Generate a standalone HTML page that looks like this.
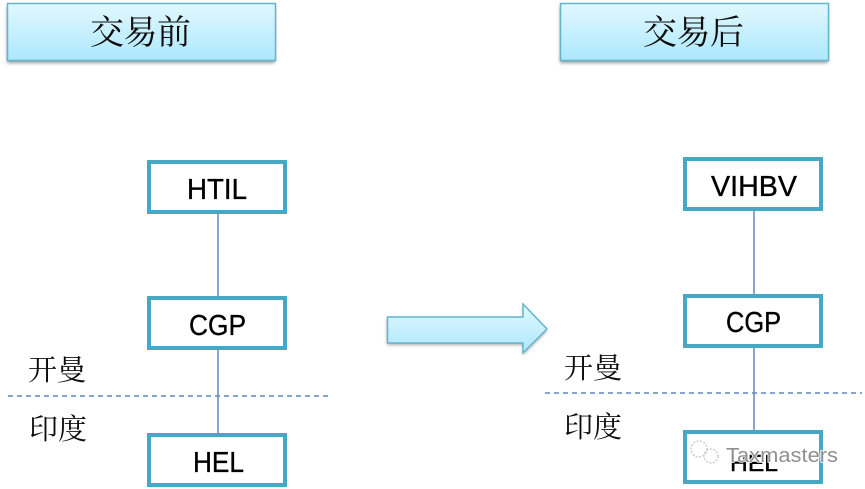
<!DOCTYPE html>
<html>
<head>
<meta charset="utf-8">
<style>
html,body{margin:0;padding:0;background:#fff;width:865px;height:489px;overflow:hidden}
svg{display:block}
.cn{font-family:"Noto Serif CJK SC","Liberation Serif",serif;fill:#111}
.en{font-family:"Liberation Sans",sans-serif;fill:#000;font-size:29px;stroke:#000;stroke-width:.35}
.box{fill:#fff;stroke:#44a9c6;stroke-width:4}
.ln{stroke:#5f88c0;stroke-width:1.5}
.dash{stroke:#5f88c0;stroke-width:1.4;stroke-dasharray:5 4}
</style>
</head>
<body>
<svg width="865" height="489" viewBox="0 0 865 489" xmlns="http://www.w3.org/2000/svg">
<defs>
<linearGradient id="g" x1="0" y1="0" x2="0" y2="1">
<stop offset="0" stop-color="#e2f8ff"/>
<stop offset="1" stop-color="#acE8fd"/>
</linearGradient>
<filter id="s" x="-5%" y="-20%" width="110%" height="150%">
<feGaussianBlur stdDeviation="1.5"/>
</filter>
<filter id="soft" filterUnits="userSpaceOnUse" x="0" y="0" width="865" height="489">
<feGaussianBlur stdDeviation="0.35"/>
</filter>
</defs>

<g filter="url(#soft)">
<!-- headers -->
<rect x="7" y="6" width="268" height="57" fill="#999" filter="url(#s)"/>
<rect x="7.5" y="3.5" width="268" height="57" fill="url(#g)" stroke="#62b5cc" stroke-width="1.5"/>
<text class="cn" x="90" y="44" font-size="34" textLength="101">交易前</text>

<rect x="560" y="6" width="268" height="57" fill="#999" filter="url(#s)"/>
<rect x="560.5" y="3.5" width="268" height="57" fill="url(#g)" stroke="#62b5cc" stroke-width="1.5"/>
<text class="cn" x="643" y="44" font-size="34" textLength="101">交易后</text>

<!-- arrow -->
<path d="M387 319H523V306L547 331L523 355V345H387Z" fill="#aaa" filter="url(#s)"/>
<path d="M387.5 317H523V304L547 329L523 353V343H387.5Z" fill="url(#g)" stroke="#62b5cc" stroke-width="1.5"/>

<!-- connectors -->
<line class="ln" x1="218" y1="213" x2="218" y2="297"/>
<line class="ln" x1="218" y1="349" x2="218" y2="434"/>
<line class="ln" x1="754" y1="210" x2="754" y2="295"/>
<line class="ln" x1="754" y1="347" x2="754" y2="431"/>

<!-- dashed -->
<line class="dash" x1="8" y1="396" x2="328" y2="396"/>
<line class="dash" x1="545" y1="393" x2="862" y2="393"/>

<!-- boxes left -->
<rect class="box" x="149" y="162" width="136" height="50"/>
<rect class="box" x="149" y="298" width="136" height="50"/>
<rect class="box" x="149" y="435" width="136" height="50"/>
<text class="en" x="187" y="199" textLength="60" lengthAdjust="spacingAndGlyphs">HTIL</text>
<text class="en" x="189" y="335" textLength="57" lengthAdjust="spacingAndGlyphs">CGP</text>
<text class="en" x="193" y="472" textLength="51" lengthAdjust="spacingAndGlyphs">HEL</text>

<!-- boxes right -->
<rect class="box" x="685" y="159" width="136" height="50"/>
<rect class="box" x="685" y="296" width="136" height="50"/>
<rect class="box" x="685" y="432" width="136" height="50"/>
<text class="en" x="711" y="196" textLength="86" lengthAdjust="spacingAndGlyphs">VIHBV</text>
<text class="en" x="726" y="332" textLength="55" lengthAdjust="spacingAndGlyphs">CGP</text>

<!-- region labels -->
<text class="cn" x="28" y="380" font-size="29">开曼</text>
<text class="cn" x="29" y="439" font-size="29">印度</text>
<text class="cn" x="564" y="378" font-size="29">开曼</text>
<text class="cn" x="564" y="437" font-size="29">印度</text>

<!-- watermark: white glow over box, HEL shows through -->
<g fill="none" stroke="#cfcfcf" stroke-width="1.6" stroke-dasharray="2 1.5">
<circle cx="699" cy="449" r="8"/>
<circle cx="711" cy="456" r="7"/>
</g>
<text x="730" y="471" font-family="'Liberation Sans',sans-serif" font-size="23" fill="#000" stroke="#000" stroke-width=".4" textLength="48" lengthAdjust="spacingAndGlyphs">HEL</text>
<text x="726" y="462" font-family="'Liberation Sans',sans-serif" font-size="20" fill="#fff" stroke="#fff" stroke-width="1.6" textLength="112" lengthAdjust="spacingAndGlyphs">Taxmasters</text>
<text x="726" y="462" font-family="'Liberation Sans',sans-serif" font-size="20" fill="#8f8f8f" textLength="112" lengthAdjust="spacingAndGlyphs">Taxmasters</text>
</g>
</svg>
</body>
</html>
